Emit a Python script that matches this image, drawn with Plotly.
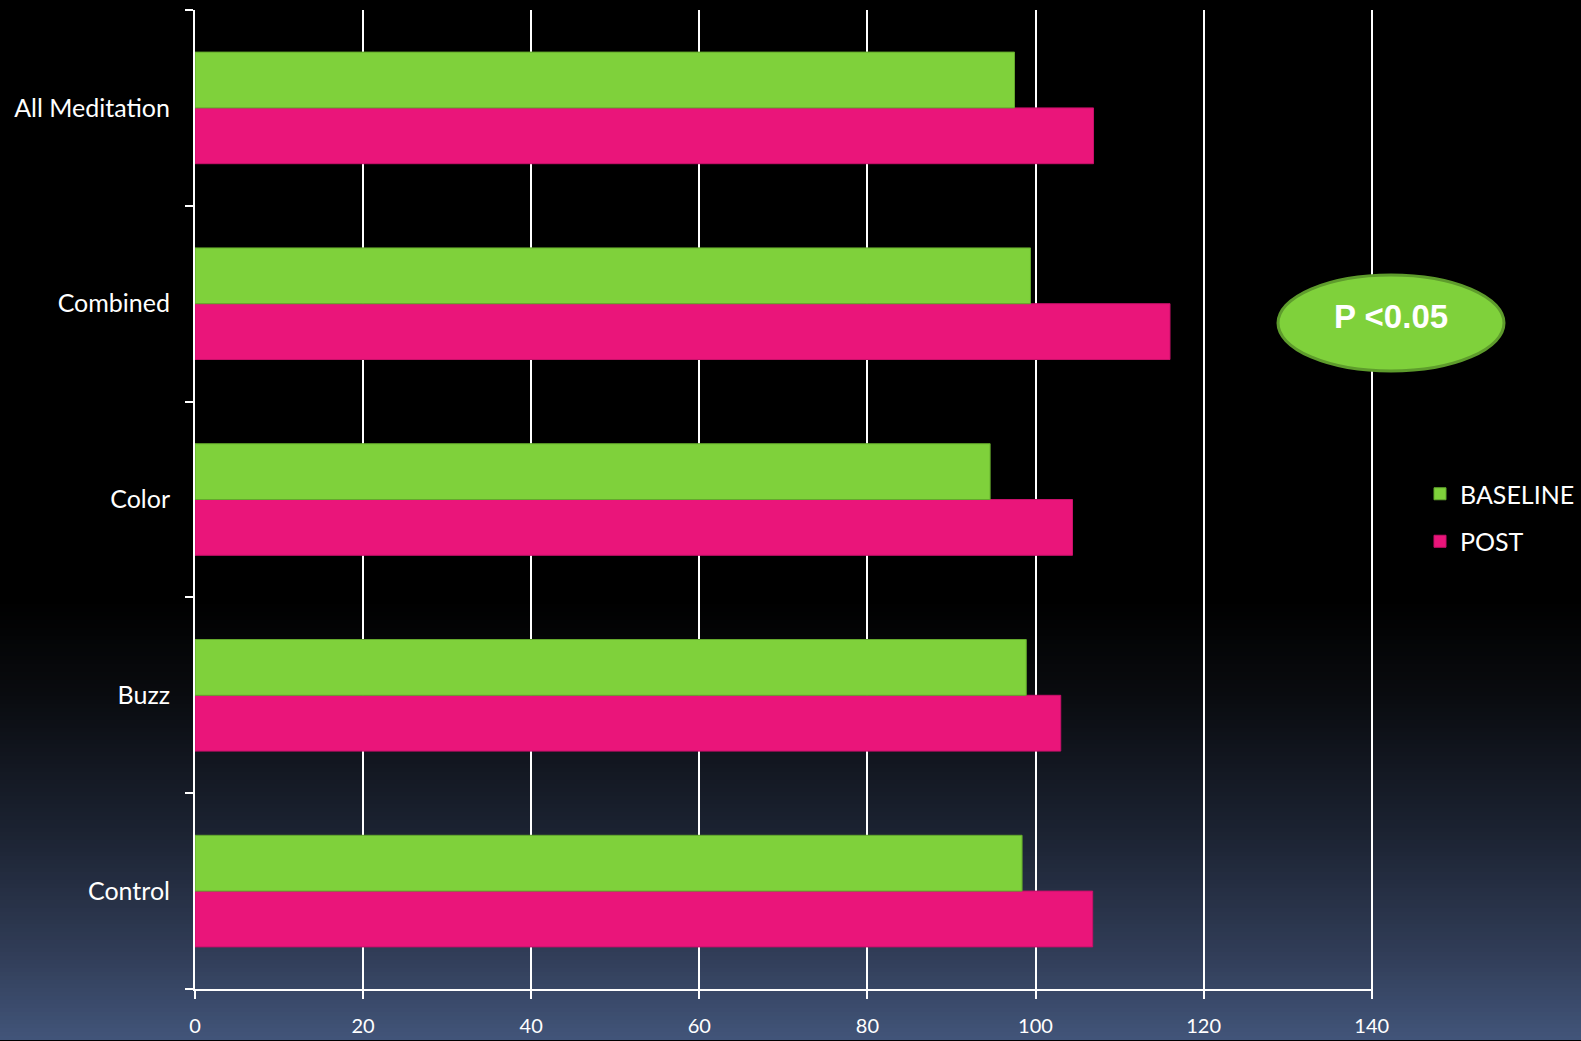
import plotly.graph_objects as go

categories = ["Control", "Buzz", "Color", "Combined", "All Meditation"]
baseline = [98.4, 98.9, 94.6, 99.4, 97.5]
post = [106.8, 103.0, 104.4, 116.0, 106.9]
x_ticks = [0, 20, 40, 60, 80, 100, 120, 140]

W, H = 1581, 1041
ML, MR, MT, MB = 195, 208, 10, 52
PW, PH = W - ML - MR, H - MT - MB

fig = go.Figure()
fig.add_trace(go.Bar(y=categories, x=post, orientation="h", name="POST", legendgroup="p",
                     legendrank=2,
                     marker=dict(color="#EA157A", line=dict(color="#C8106A", width=1))))
fig.add_trace(go.Bar(y=categories, x=baseline, orientation="h", name="BASELINE", legendgroup="b",
                     legendrank=1,
                     marker=dict(color="#7FD13B", line=dict(color="#63A82C", width=1))))

def px2py(y):
    return (H - MB - y) / PH

def px2px(x):
    return (x - ML) / PW

stops = [(0, (0, 0, 0)), (600, (0, 0, 0)), (700, (10, 12, 16)), (830, (27, 34, 49)),
         (950, (48, 60, 86)), (1041, (66, 85, 122))]

def col(y):
    for (y0, c0), (y1, c1) in zip(stops[:-1], stops[1:]):
        if y0 <= y <= y1:
            t = (y - y0) / (y1 - y0) if y1 > y0 else 0
            return "rgb(%d,%d,%d)" % tuple(round(a + (b - a) * t) for a, b in zip(c0, c1))
    return "rgb(0,0,0)"

shapes = []
step = 4
for y in range(560, H, step):
    shapes.append(dict(type="rect", xref="paper", yref="paper", layer="below",
                       x0=px2px(0), x1=px2px(W), y0=px2py(y + step + 1), y1=px2py(y),
                       fillcolor=col(y + step / 2), line=dict(width=0)))

shapes.append(dict(type="circle", xref="paper", yref="paper", layer="above",
                   x0=px2px(1278), x1=px2px(1504), y0=px2py(371), y1=px2py(275),
                   fillcolor="#7FD13B", line=dict(color="#5E9C2C", width=3)))

fig.update_layout(
    width=W, height=H,
    margin=dict(l=ML, r=MR, t=MT, b=MB, autoexpand=False),
    paper_bgcolor="black", plot_bgcolor="rgba(0,0,0,0)",
    barmode="group", bargap=0.43, bargroupgap=0,
    font=dict(family="Lato, sans-serif", color="white"),
    shapes=shapes,
    legend=dict(x=px2px(1420), y=px2py(471), xanchor="left", yanchor="top",
                traceorder="grouped", font=dict(size=25, color="white"),
                bgcolor="rgba(0,0,0,0)", itemwidth=30, tracegroupgap=12),
    annotations=[dict(text="<b>P <0.05</b>", xref="paper", yref="paper",
                      x=px2px(1391), y=px2py(316), xanchor="center", yanchor="middle",
                      showarrow=False,
                      font=dict(family="Liberation Sans, Arial", size=33, color="white"))],
)
fig.update_xaxes(range=[0, 140.15], tickvals=x_ticks, ticktext=[str(v) for v in x_ticks],
                 showgrid=True, gridcolor="white", gridwidth=2,
                 showline=True, linecolor="white", linewidth=2, automargin=False,
                 ticks="outside", ticklen=8, tickwidth=2, tickcolor="white",
                 zeroline=False, ticklabelstandoff=10, tickfont=dict(size=20, color="white"))
fig.update_yaxes(showgrid=False, showline=True, linecolor="white", linewidth=2, automargin=False,
                 ticks="outside", ticklen=8, tickwidth=2, tickcolor="white",
                 tickson="boundaries", ticklabelstandoff=18,
                 tickfont=dict(size=25, color="white"))

fig.write_html("out.html")
